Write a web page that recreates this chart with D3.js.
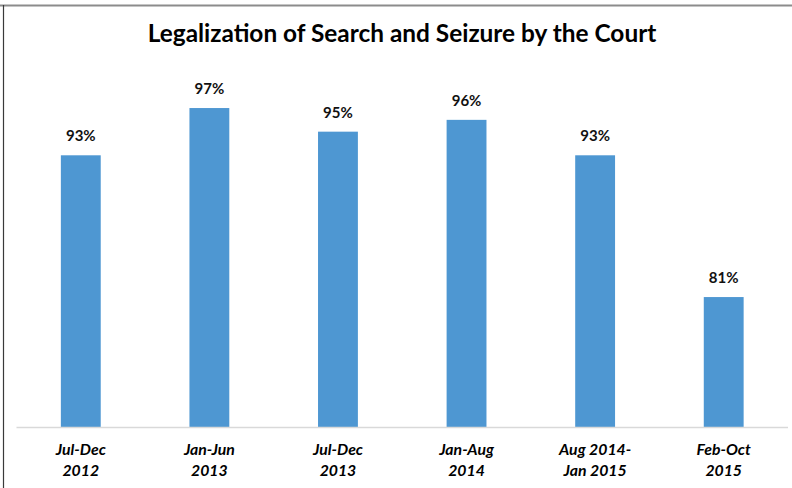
<!DOCTYPE html>
<html>
<head>
<meta charset="utf-8">
<script src="https://cdn.jsdelivr.net/npm/d3@7"></script>
<style>
  body { margin: 0; background: #fff; }
  svg { display: block; font-family: Lato, "Open Sans", sans-serif; }
</style>
</head>
<body>
<svg id="chart" width="792" height="488"></svg>
<script>
// chart data
var periods = [["Jul-Dec", "2012"], ["Jan-Jun", "2013"], ["Jul-Dec", "2013"],
               ["Jan-Aug", "2014"], ["Aug 2014-", "Jan 2015"], ["Feb-Oct", "2015"]];
var shares = [93, 97, 95, 96, 93, 81];
var yDomain = [70, 100];

var svg = d3.select("#chart");
var W = 792, H = 488;
var plotLeft = 16.5, plotRight = 788, plotTop = 72.6, plotBase = 427;

// frame: gray top edge, dark left edge
svg.append("line").attr("x1", 0).attr("x2", W).attr("y1", 5.5).attr("y2", 5.5)
    .attr("stroke", "#8c8c8c").attr("stroke-width", 2);
svg.append("line").attr("x1", 3.5).attr("x2", 3.5).attr("y1", 5).attr("y2", H)
    .attr("stroke", "#3a3a3a").attr("stroke-width", 1.2);

svg.append("text")
    .attr("x", 402).attr("y", 42)
    .attr("text-anchor", "middle")
    .attr("font-size", 24.4).attr("font-weight", "bold")
    .attr("fill", "#000")
    .text("Legalization of Search and Seizure by the Court");

var x = d3.scaleBand()
    .domain(d3.range(shares.length))
    .range([plotLeft, plotRight])
    .paddingInner(0.69)
    .paddingOuter(0.345);

var y = d3.scaleLinear().domain(yDomain).range([plotBase, plotTop]);

// bars
svg.selectAll("rect.bar").data(shares).enter().append("rect")
    .attr("class", "bar")
    .attr("x", function(d, i) { return x(i); })
    .attr("width", x.bandwidth())
    .attr("y", function(d) { return y(d); })
    .attr("height", function(d) { return plotBase - y(d); })
    .attr("fill", "#4e97d2");

// value labels
svg.selectAll("text.val").data(shares).enter().append("text")
    .attr("class", "val")
    .attr("x", function(d, i) { return x(i) + x.bandwidth() / 2; })
    .attr("y", function(d) { return y(d) - 14; })
    .attr("text-anchor", "middle")
    .attr("font-size", 15).attr("font-weight", "bold")
    .attr("fill", "#111")
    .text(function(d) { return d + "%"; });

// baseline
svg.append("line").attr("x1", plotLeft).attr("x2", plotRight)
    .attr("y1", plotBase + 0.5).attr("y2", plotBase + 0.5)
    .attr("stroke", "#d9d9d9").attr("stroke-width", 1.5);

// category labels, two lines each
var cats = svg.selectAll("text.cat").data(periods).enter().append("text")
    .attr("class", "cat")
    .attr("text-anchor", "middle")
    .attr("font-size", 15.8).attr("font-weight", "bold").attr("font-style", "italic")
    .attr("fill", "#000");
cats.append("tspan")
    .attr("x", function(d, i) { return x(i) + x.bandwidth() / 2; })
    .attr("y", 455)
    .text(function(d) { return d[0]; });
cats.append("tspan")
    .attr("x", function(d, i) { return x(i) + x.bandwidth() / 2; })
    .attr("y", 476)
    .text(function(d) { return d[1]; });
</script>
</body>
</html>
